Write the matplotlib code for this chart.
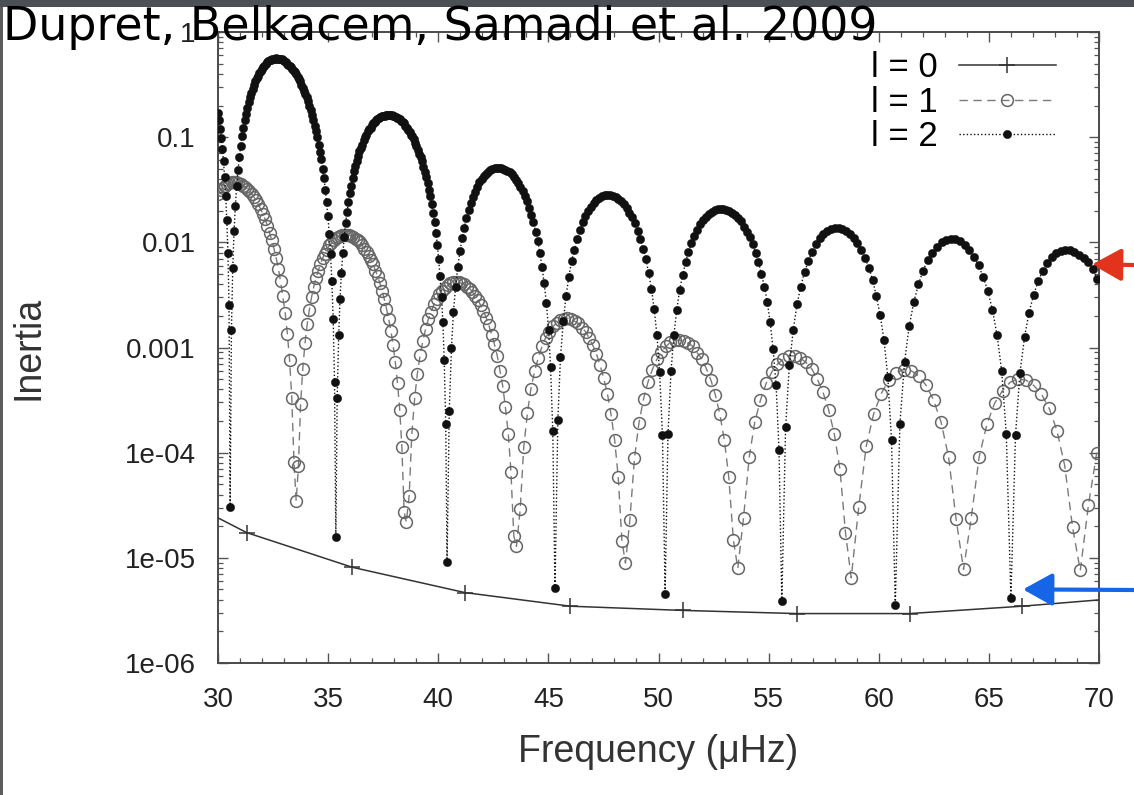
import numpy as np
import matplotlib
matplotlib.use("Agg")
import matplotlib.pyplot as plt
from matplotlib.lines import Line2D
from matplotlib.patches import Rectangle
from matplotlib.ticker import FixedLocator, FixedFormatter, MultipleLocator, LogLocator, NullFormatter

plt.rcParams['font.family'] = ['Liberation Sans', 'DejaVu Sans']

# ------------------------------------------------------------------ data
title = "Dupret, Belkacem, Samadi et al. 2009"
x_label = "Frequency (\u03bcHz)"
y_label = "Inertia"
legend_labels = ["l = 0", "l = 1", "l = 2"]
x_ticks = [30, 35, 40, 45, 50, 55, 60, 65, 70]
y_ticks = [1e-6, 1e-5, 1e-4, 1e-3, 1e-2, 1e-1, 1]
y_tick_labels = ["1e-06", "1e-05", "1e-04", "0.001", "0.01", "0.1", "1"]

# l = 0 (radial modes): curve from axis edge to axis edge, markers at the modes
l0_freq = [30.0, 31.3, 36.1, 41.2, 46.0, 51.1, 56.3, 61.4, 66.5, 70.0]
l0_log_inertia = [-4.62, -4.76, -5.09, -5.33, -5.46, -5.50, -5.53, -5.53, -5.46, -5.40]

# l = 1 mixed modes (log10 of inertia)
l1_freq = [
    30.00, 30.12, 30.22, 30.32, 30.42, 30.52, 30.62, 30.72, 30.82, 30.92,
    31.03, 31.13, 31.23, 31.33, 31.43, 31.53, 31.63, 31.73, 31.83, 31.93,
    32.04, 32.14, 32.24, 32.34, 32.44, 32.54, 32.64, 32.74, 32.84, 32.94,
    33.05, 33.15, 33.25, 33.35, 33.45, 33.55,
    33.65, 33.75, 33.85, 33.95, 34.05, 34.15, 34.25, 34.35, 34.45, 34.55,
    34.65, 34.75, 34.85, 34.95, 35.05, 35.15, 35.25, 35.35, 35.45, 35.55,
    35.65, 35.75, 35.85, 35.95, 36.05, 36.15, 36.25, 36.35, 36.45, 36.55,
    36.65, 36.75, 36.85, 36.95, 37.05, 37.15, 37.25, 37.35, 37.45, 37.55,
    37.65, 37.75, 37.85, 37.95, 38.05, 38.15, 38.25, 38.35, 38.45, 38.55,
    38.68, 38.80, 38.93, 39.05, 39.18, 39.30, 39.43, 39.55, 39.68, 39.80,
    39.93, 40.05, 40.18, 40.30, 40.43, 40.55, 40.68, 40.80, 40.93, 41.05,
    41.18, 41.30, 41.43, 41.55, 41.68, 41.80, 41.93, 42.05, 42.18, 42.30,
    42.43, 42.55, 42.68, 42.80, 42.93, 43.05, 43.18, 43.30, 43.43, 43.55,
    43.72, 43.88, 44.05, 44.21, 44.38, 44.54, 44.71, 44.87, 45.04, 45.20,
    45.37, 45.53, 45.70, 45.86, 46.03, 46.19, 46.36, 46.52, 46.69, 46.85,
    47.02, 47.18, 47.35, 47.51, 47.68, 47.84, 48.01, 48.17, 48.34, 48.50,
    48.70, 48.91, 49.11, 49.32, 49.52, 49.72, 49.93, 50.13, 50.34, 50.54,
    50.74, 50.95, 51.15, 51.36, 51.56, 51.76, 51.97, 52.17, 52.38, 52.58,
    52.78, 52.99, 53.19, 53.40, 53.60,
    53.86, 54.12, 54.37, 54.63, 54.89, 55.15, 55.40, 55.66, 55.92, 56.18,
    56.43, 56.69, 56.95, 57.21, 57.46, 57.72, 57.98, 58.24, 58.49, 58.75,
    59.09, 59.43, 59.77, 60.11, 60.45, 60.79, 61.13, 61.47, 61.81, 62.15,
    62.49, 62.83, 63.17, 63.51, 63.85,
    64.20, 64.56, 64.91, 65.26, 65.62, 65.97, 66.32, 66.68, 67.03, 67.38,
    67.74, 68.09, 68.44, 68.80, 69.15,
    69.52, 69.90,
]
l1_log_inertia = [
    -1.54, -1.50, -1.48, -1.46, -1.45, -1.44, -1.43, -1.43, -1.43, -1.44,
    -1.45, -1.46, -1.47, -1.49, -1.51, -1.54, -1.57, -1.60, -1.64, -1.68,
    -1.73, -1.78, -1.84, -1.91, -1.98, -2.06, -2.15, -2.25, -2.37, -2.51,
    -2.67, -2.87, -3.12, -3.48, -4.09, -4.46,
    -4.13, -3.54, -3.20, -2.96, -2.78, -2.64, -2.52, -2.42, -2.34, -2.27,
    -2.21, -2.15, -2.11, -2.07, -2.03, -2.01, -1.98, -1.96, -1.95, -1.94,
    -1.93, -1.93, -1.93, -1.93, -1.94, -1.95, -1.97, -1.98, -2.00, -2.03,
    -2.06, -2.09, -2.13, -2.17, -2.21, -2.27, -2.32, -2.39, -2.46, -2.54,
    -2.63, -2.73, -2.84, -2.98, -3.14, -3.34, -3.59, -3.95, -4.56, -4.66,
    -4.41, -3.82, -3.48, -3.25, -3.07, -2.94, -2.82, -2.73, -2.66, -2.59,
    -2.54, -2.49, -2.46, -2.43, -2.41, -2.39, -2.38, -2.38, -2.38, -2.39,
    -2.40, -2.42, -2.44, -2.47, -2.51, -2.55, -2.60, -2.65, -2.72, -2.79,
    -2.88, -2.97, -3.08, -3.22, -3.37, -3.57, -3.82, -4.18, -4.79, -4.89,
    -4.54, -3.95, -3.62, -3.39, -3.22, -3.10, -2.99, -2.91, -2.85, -2.80,
    -2.77, -2.74, -2.73, -2.72, -2.73, -2.75, -2.77, -2.81, -2.85, -2.91,
    -2.98, -3.06, -3.17, -3.29, -3.44, -3.63, -3.88, -4.23, -4.84, -5.05,
    -4.64, -4.05, -3.72, -3.49, -3.33, -3.21, -3.11, -3.04, -2.99, -2.95,
    -2.93, -2.93, -2.94, -2.96, -2.99, -3.05, -3.11, -3.20, -3.31, -3.45,
    -3.63, -3.88, -4.23, -4.83, -5.10,
    -4.62, -4.04, -3.71, -3.50, -3.34, -3.23, -3.16, -3.11, -3.08, -3.08,
    -3.10, -3.14, -3.20, -3.30, -3.42, -3.59, -3.82, -4.16, -4.76, -5.19,
    -4.52, -3.94, -3.63, -3.44, -3.31, -3.24, -3.21, -3.22, -3.27, -3.36,
    -3.50, -3.71, -4.04, -4.63, -5.11,
    -4.62, -4.04, -3.73, -3.53, -3.41, -3.33, -3.30, -3.31, -3.36, -3.44,
    -3.58, -3.79, -4.12, -4.71, -5.12,
    -4.50, -4.00,
]

# l = 2 mixed modes (log10 of inertia)
l2_freq = [
    30.00, 30.05, 30.10, 30.15, 30.20, 30.25, 30.30, 30.35, 30.40, 30.45, 30.50, 30.55,
    30.61, 30.67, 30.73, 30.79, 30.85, 30.91, 30.97, 31.03, 31.09, 31.15,
    31.21, 31.27, 31.33, 31.39, 31.45, 31.51, 31.57, 31.63, 31.69, 31.75,
    31.81, 31.87, 31.93, 31.99, 32.05, 32.11, 32.17, 32.23, 32.29, 32.35,
    32.41, 32.47, 32.53, 32.59, 32.65, 32.71, 32.77, 32.83, 32.89, 32.95,
    33.01, 33.07, 33.13, 33.19, 33.25, 33.31, 33.37, 33.43, 33.49, 33.55,
    33.61, 33.67, 33.73, 33.79, 33.85, 33.91, 33.97, 34.03, 34.09, 34.15,
    34.21, 34.27, 34.33, 34.39, 34.45, 34.51, 34.57, 34.63, 34.69, 34.75,
    34.81, 34.87, 34.93, 34.99, 35.05, 35.11, 35.17, 35.23, 35.29, 35.35,
    35.41, 35.48, 35.54, 35.60, 35.67, 35.73, 35.79, 35.86, 35.92, 35.98,
    36.04, 36.11, 36.17, 36.23, 36.30, 36.36, 36.42, 36.49, 36.55, 36.61,
    36.68, 36.74, 36.80, 36.87, 36.93, 36.99, 37.05, 37.12, 37.18, 37.24,
    37.31, 37.37, 37.43, 37.50, 37.56, 37.62, 37.69, 37.75, 37.81, 37.88,
    37.94, 38.00, 38.06, 38.13, 38.19, 38.25, 38.32, 38.38, 38.44, 38.51,
    38.57, 38.63, 38.70, 38.76, 38.82, 38.89, 38.95, 39.01, 39.07, 39.14,
    39.20, 39.26, 39.33, 39.39, 39.45, 39.52, 39.58, 39.64, 39.71, 39.77,
    39.83, 39.90, 39.96, 40.02, 40.08, 40.15, 40.21, 40.27, 40.34, 40.40,
    40.50, 40.60, 40.69, 40.79, 40.89, 40.99, 41.09, 41.18, 41.28, 41.38,
    41.48, 41.58, 41.67, 41.77, 41.87, 41.97, 42.07, 42.16, 42.26, 42.36,
    42.46, 42.56, 42.65, 42.75, 42.85, 42.95, 43.05, 43.14, 43.24, 43.34,
    43.44, 43.54, 43.63, 43.73, 43.83, 43.93, 44.03, 44.12, 44.22, 44.32,
    44.42, 44.52, 44.61, 44.71, 44.81, 44.91, 45.01, 45.10, 45.20, 45.30,
    45.43, 45.55, 45.68, 45.80, 45.93, 46.05, 46.18, 46.30, 46.43, 46.55,
    46.68, 46.80, 46.93, 47.05, 47.18, 47.30, 47.43, 47.55, 47.68, 47.80,
    47.93, 48.05, 48.18, 48.30, 48.43, 48.55, 48.68, 48.80, 48.93, 49.05,
    49.18, 49.30, 49.43, 49.55, 49.68, 49.80, 49.93, 50.05, 50.18, 50.30,
    50.43, 50.57, 50.70, 50.83, 50.96, 51.10, 51.23, 51.36, 51.49, 51.63,
    51.76, 51.89, 52.02, 52.16, 52.29, 52.42, 52.55, 52.69, 52.82, 52.95,
    53.08, 53.22, 53.35, 53.48, 53.61, 53.75, 53.88, 54.01, 54.14, 54.28,
    54.41, 54.54, 54.67, 54.81, 54.94, 55.07, 55.20, 55.34, 55.47, 55.60,
    55.77, 55.94, 56.12, 56.29, 56.46, 56.63, 56.80, 56.97, 57.15, 57.32,
    57.49, 57.66, 57.83, 58.00, 58.18, 58.35, 58.52, 58.69, 58.86, 59.03,
    59.21, 59.38, 59.55, 59.72, 59.89, 60.06, 60.24, 60.41, 60.58, 60.75,
    60.96, 61.17, 61.38, 61.59, 61.80, 62.01, 62.22, 62.43, 62.64, 62.85,
    63.06, 63.27, 63.48, 63.69, 63.90, 64.11, 64.32, 64.53, 64.74, 64.95,
    65.16, 65.37, 65.58, 65.79, 66.00,
    66.21, 66.41, 66.62, 66.82, 67.03, 67.24, 67.44, 67.65, 67.85, 68.06,
    68.27, 68.47, 68.68, 68.88, 69.09, 69.30, 69.50, 69.71, 69.91,
]
l2_log_inertia = [
    -0.77, -0.84, -0.92, -1.01, -1.11, -1.23, -1.38, -1.56, -1.79, -2.10, -2.60, -4.52,
    -2.83, -2.24, -1.89, -1.65, -1.46, -1.31, -1.19, -1.08, -0.99, -0.91,
    -0.84, -0.78, -0.72, -0.67, -0.62, -0.58, -0.54, -0.50, -0.47, -0.44,
    -0.42, -0.39, -0.37, -0.35, -0.33, -0.32, -0.30, -0.29, -0.28, -0.27,
    -0.27, -0.26, -0.26, -0.26, -0.25, -0.26, -0.26, -0.26, -0.26, -0.27,
    -0.28, -0.29, -0.30, -0.31, -0.32, -0.33, -0.35, -0.37, -0.38, -0.40,
    -0.43, -0.45, -0.47, -0.50, -0.53, -0.56, -0.59, -0.62, -0.66, -0.70,
    -0.74, -0.79, -0.84, -0.89, -0.94, -1.00, -1.07, -1.14, -1.21, -1.30,
    -1.39, -1.50, -1.62, -1.75, -1.92, -2.11, -2.37, -2.73, -3.33, -4.80,
    -3.48, -2.88, -2.54, -2.29, -2.10, -1.95, -1.82, -1.71, -1.62, -1.53,
    -1.46, -1.39, -1.32, -1.27, -1.23, -1.18, -1.13, -1.10, -1.07, -1.03,
    -1.00, -0.98, -0.94, -0.92, -0.91, -0.88, -0.87, -0.86, -0.84, -0.83,
    -0.82, -0.81, -0.80, -0.80, -0.80, -0.79, -0.79, -0.79, -0.79, -0.79,
    -0.80, -0.80, -0.81, -0.82, -0.82, -0.83, -0.85, -0.86, -0.87, -0.89,
    -0.91, -0.93, -0.95, -0.98, -0.99, -1.02, -1.06, -1.08, -1.12, -1.16,
    -1.19, -1.23, -1.28, -1.33, -1.38, -1.44, -1.50, -1.56, -1.64, -1.72,
    -1.81, -1.91, -2.03, -2.16, -2.32, -2.52, -2.76, -3.12, -3.73, -5.04,
    -3.60, -3.00, -2.66, -2.42, -2.23, -2.08, -1.96, -1.86, -1.77, -1.69,
    -1.63, -1.57, -1.52, -1.47, -1.43, -1.40, -1.37, -1.35, -1.33, -1.31,
    -1.30, -1.29, -1.29, -1.29, -1.29, -1.30, -1.31, -1.32, -1.33, -1.35,
    -1.38, -1.41, -1.44, -1.47, -1.51, -1.56, -1.61, -1.67, -1.74, -1.81,
    -1.90, -1.99, -2.10, -2.23, -2.39, -2.58, -2.83, -3.19, -3.79, -5.29,
    -3.69, -3.09, -2.75, -2.51, -2.33, -2.18, -2.07, -1.97, -1.88, -1.81,
    -1.75, -1.70, -1.66, -1.63, -1.60, -1.58, -1.56, -1.55, -1.55, -1.55,
    -1.56, -1.57, -1.59, -1.61, -1.64, -1.67, -1.72, -1.76, -1.82, -1.89,
    -1.97, -2.06, -2.16, -2.29, -2.44, -2.63, -2.88, -3.23, -3.83, -5.34,
    -3.82, -3.22, -2.88, -2.64, -2.45, -2.31, -2.19, -2.09, -2.01, -1.94,
    -1.88, -1.83, -1.79, -1.76, -1.73, -1.71, -1.69, -1.68, -1.68, -1.68,
    -1.69, -1.70, -1.72, -1.74, -1.77, -1.80, -1.85, -1.90, -1.95, -2.02,
    -2.10, -2.19, -2.30, -2.42, -2.57, -2.76, -3.01, -3.36, -3.97, -5.41,
    -3.76, -3.17, -2.83, -2.59, -2.42, -2.28, -2.18, -2.09, -2.02, -1.96,
    -1.92, -1.89, -1.87, -1.86, -1.86, -1.87, -1.89, -1.92, -1.96, -2.01,
    -2.07, -2.15, -2.24, -2.36, -2.51, -2.69, -2.93, -3.28, -3.88, -5.45,
    -3.73, -3.14, -2.80, -2.57, -2.40, -2.27, -2.17, -2.10, -2.04, -2.00,
    -1.98, -1.97, -1.97, -1.99, -2.03, -2.07, -2.14, -2.22, -2.33, -2.46,
    -2.64, -2.88, -3.22, -3.82, -5.38,
    -3.83, -3.24, -2.90, -2.67, -2.50, -2.37, -2.27, -2.20, -2.14, -2.10,
    -2.08, -2.07, -2.07, -2.09, -2.12, -2.15, -2.19, -2.25, -2.35,
]

# arrows (annotation targets, data coordinates)
red_arrow_target = (69.68, 10 ** -2.21)
blue_arrow_target = (66.55, 10 ** -5.30)

assert len(l1_freq) == len(l1_log_inertia), (len(l1_freq), len(l1_log_inertia))
assert len(l2_freq) == len(l2_log_inertia), (len(l2_freq), len(l2_log_inertia))

# ------------------------------------------------------------------ figure
W, H = 1134, 795
fig = plt.figure(figsize=(W / 100, H / 100), dpi=100)
fig.patch.set_facecolor('white')

# slide decoration: dark top band and left edge
fig.patches.append(Rectangle((0, 1 - 7 / H), 1, 7 / H, transform=fig.transFigure,
                             facecolor='#4c4f56', edgecolor='none', zorder=0))
fig.patches.append(Rectangle((0, 0), 3 / W, 1 - 7 / H, transform=fig.transFigure,
                             facecolor='#5c5c5c', edgecolor='none', zorder=0))

ax = fig.add_axes([218 / W, (H - 663) / H, 881 / W, 631 / H])
ax.set_yscale('log')
ax.set_xlim(30, 70)
ax.set_ylim(1e-6, 1)

l0_inertia = 10 ** np.array(l0_log_inertia)
l1_inertia = 10 ** np.array(l1_log_inertia)
l2_inertia = 10 ** np.array(l2_log_inertia)

L0_STYLE = dict(color='#333333', lw=1.1)
L1_STYLE = dict(color='#7a7a7a', lw=1.0, ls=(0, (6, 4)), marker='o', ms=8.5,
                mfc='none', mec='#666666', mew=1.1)
L2_STYLE = dict(color='#111111', lw=1.0, ls=(0, (1, 1.6)), marker='o', ms=6,
                mfc='#111111', mec='#111111', mew=0.3)

ax.plot(l0_freq, l0_inertia, zorder=3, **L0_STYLE)
ax.plot(l0_freq[1:-1], l0_inertia[1:-1], ls='none', marker='+', ms=11, mew=1.1,
        color='#333333', zorder=3)
ax.plot(l1_freq, l1_inertia, zorder=4, **L1_STYLE)
ax.plot(l2_freq, l2_inertia, zorder=5, **L2_STYLE)

# axes styling (gnuplot-like: inward ticks mirrored on all sides)
for sp in ax.spines.values():
    sp.set_color('#4a4a4a')
    sp.set_linewidth(1.4)
ax.xaxis.set_major_locator(FixedLocator(x_ticks))
ax.xaxis.set_minor_locator(MultipleLocator(1))
ax.yaxis.set_major_locator(FixedLocator(y_ticks))
ax.yaxis.set_major_formatter(FixedFormatter(y_tick_labels))
ax.yaxis.set_minor_locator(LogLocator(base=10, subs=np.arange(2, 10)))
ax.yaxis.set_minor_formatter(NullFormatter())
ax.tick_params(which='both', direction='in', top=True, right=True, color='#555555')
ax.tick_params(which='major', length=7, width=1.0, labelsize=20, labelcolor='#222222')
ax.tick_params(which='minor', length=3.5, width=0.9)
ax.tick_params(axis='x', which='major', pad=17)
ax.tick_params(axis='y', which='major', pad=16)

ax.set_xlabel(x_label, fontsize=27, color='#333333')
ax.set_ylabel(y_label, fontsize=27, color='#333333')
ax.xaxis.set_label_coords(0.5, (663 - 752) / 631)
ax.xaxis.label.set_va('center')
ax.yaxis.set_label_coords((28 - 218) / 881, 0.5)
ax.yaxis.label.set_va('center')

handles = [
    Line2D([], [], marker='+', ms=11, mew=1.1, **L0_STYLE),
    Line2D([], [], **L1_STYLE),
    Line2D([], [], **L2_STYLE),
]
ax.legend(handles, legend_labels, loc='upper right',
          bbox_to_anchor=(1056 / W, 1 - 51 / H), bbox_transform=fig.transFigure,
          frameon=False, markerfirst=False, numpoints=1, fontsize=25,
          handlelength=2.8, handletextpad=0.6, labelspacing=0.05,
          borderpad=0, borderaxespad=0)

fig.text(3 / W, 1 - 40 / H, title, fontsize=33, family='DejaVu Sans',
         color='black', va='baseline', ha='left', zorder=10)

arrow_common = dict(arrowstyle='-|>,head_length=0.9,head_width=0.5',
                    lw=3.0, shrinkA=0, shrinkB=0, mutation_scale=20)
ax.annotate('', xy=red_arrow_target, xycoords='data',
            xytext=(1.0, 1 - 265 / H), textcoords='figure fraction',
            arrowprops=dict(color='#e2331c', **arrow_common), annotation_clip=False)
ax.annotate('', xy=blue_arrow_target, xycoords='data',
            xytext=(1.0, 1 - 590 / H), textcoords='figure fraction',
            arrowprops=dict(color='#1565e6', **arrow_common), annotation_clip=False)

fig.savefig('out.png', dpi=100)
